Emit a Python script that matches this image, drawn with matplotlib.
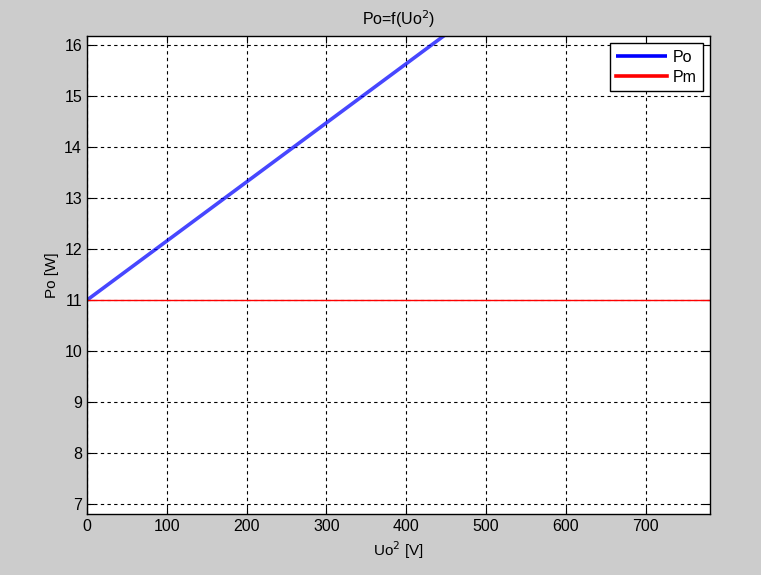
import matplotlib

matplotlib.use("Agg")

import matplotlib.pyplot as plt

# Po line (Uo^2 vs Po), Pm constant level
uo2 = [0, 450]
po = [11.0, 16.22]
pm_x = [0, 780]
pm = [11.0, 11.0]

x_ticks = [0, 100, 200, 300, 400, 500, 600, 700]
y_ticks = [7, 8, 9, 10, 11, 12, 13, 14, 15, 16]

plt.rcParams["font.family"] = ["Liberation Sans", "DejaVu Sans"]

fig = plt.figure(figsize=(7.61, 5.75), dpi=100, facecolor="#cccccc")
ax = fig.add_axes([0.1143, 0.106, 0.819, 0.831])
ax.set_facecolor("white")

ax.plot(uo2, po, color="#0000ff", linewidth=2.6, alpha=0.72, label="Po", solid_capstyle="butt")
ax.plot(pm_x, pm, color="#ff0000", linewidth=1.0, label="Pm")

ax.set_xlim(0, 781)
ax.set_ylim(6.8, 16.18)
ax.set_xticks(x_ticks)
ax.set_yticks(y_ticks)
ax.tick_params(direction="in", top=True, right=True, length=5, labelsize=11.5, colors="black")
ax.grid(True, color="black", linestyle=(0, (3, 3)), linewidth=0.8)
for spine in ax.spines.values():
    spine.set_linewidth(1.0)

ax.set_title("Po=f(Uo$^2$)", fontsize=11.5, pad=8)
ax.set_xlabel("Uo$^2$ [V]", fontsize=11)
ax.set_ylabel("Po [W]", fontsize=11)

leg = ax.legend(loc="upper right", fontsize=11.5, fancybox=False, framealpha=1,
                edgecolor="black", borderaxespad=0.45, handlelength=3.2,
                handletextpad=0.35, labelspacing=0.3, borderpad=0.4)
leg.get_frame().set_linewidth(1.0)
for line in leg.get_lines():
    line.set_alpha(1)
    line.set_linewidth(2.6)

fig.savefig("out.png", dpi=100, facecolor=fig.get_facecolor())
